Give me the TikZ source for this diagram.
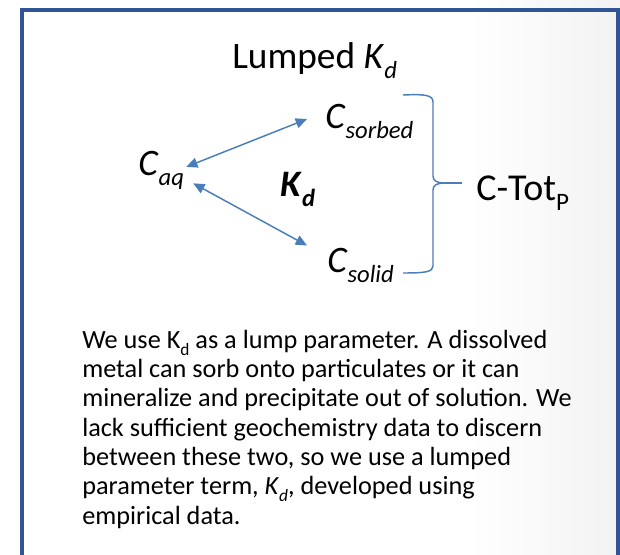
\documentclass[tikz,border=0pt]{standalone}
\usepackage{fontspec}
\setmainfont{Carlito}
\usepackage{xcolor}
\definecolor{slideblue}{RGB}{47,85,151}
\definecolor{linkblue}{RGB}{74,126,187}
\usepackage{tikz}
\usetikzlibrary{positioning}
\usetikzlibrary{arrows.meta}
\usetikzlibrary{calc}
\makeatletter
\newcommand{\lsub}[1]{\raisebox{-0.27em}{\fontsize{\fpeval{0.66*\f@size}}{0}\selectfont #1}}
\makeatother
\tikzset{
  ctext/.style={inner sep=0,font=\fontsize{28}{33}\selectfont},
  biarrow/.style={{Triangle[length=8.5pt,width=7.5pt]}-{Triangle[length=8.5pt,width=7.5pt]},draw=linkblue,line width=1.1pt},
  bracket/.style={draw=linkblue,line width=1.1pt}
}

\begin{document}
\begin{tikzpicture}[x=0.75pt,y=-0.75pt]
\useasboundingbox (0,0) rectangle (620,554);
%slide background and frame
\fill [white] (0,0) rectangle (620,554);
\shade [left color=white,right color=gray!10] (470,0) rectangle (620,554);
\draw [slideblue,line width=3pt] (21.5,10) rectangle (617.5,600);

%title
\node (title) at (232,68) [anchor=base west,ctext] {Lumped \textit{K}\lsub{\textit{d}}};

%concentrations
\node (caq) at (138,175) [anchor=base west,ctext] {\textit{C}\lsub{\textit{aq}}};
\node (sorbed) at (325,128) [anchor=base west,ctext] {\textit{C}\lsub{\textit{sorbed}}};
\node (solid) at (327,272) [anchor=base west,ctext] {\textit{C}\lsub{\textit{solid}}};
\node (kd) at (280,196) [anchor=base west,ctext] {\textbf{\textit{K}\lsub{\textit{d}}}};
\node (ctot) at (476,200) [anchor=base west,inner sep=0,font=\fontsize{28.5}{33}\selectfont] {C-Tot\lsub{P}};

%exchange arrows
\draw [biarrow] ([shift={(2,-3)}]caq.east) -- ([shift={(-18,-2)}]sorbed.west);
\draw [biarrow] ([shift={(9,-6)}]caq.south east) -- ([shift={(-20,-2)}]solid.north west);

%brace round sorbed and solid
\coordinate (tip) at (445,183);
\draw [bracket] (403,95) .. controls (425,94) and (433,95) .. (433,102) -- (433,176)
  .. controls (433,181) and (437,183) .. (tip)
  .. controls (437,183) and (433,185) .. (433,190) -- (433,266)
  .. controls (433,272) and (425,273) .. (403,273);
\draw [bracket] (tip) -- ++(17,0);

%note (base is the last line)
\node (note) at (82,524) [anchor=base west,inner sep=0,align=left,font=\fontsize{19.7}{22}\selectfont] {We use K\lsub{d} as a lump parameter. A dissolved\\
metal can sorb onto particulates or it can\\
mineralize and precipitate out of solution. We\\
lack sufficient geochemistry data to discern\\
between these two, so we use a lumped\\
parameter term, \textit{K}\lsub{\textit{d}}, developed using\\
empirical data.};
\end{tikzpicture}
\end{document}
